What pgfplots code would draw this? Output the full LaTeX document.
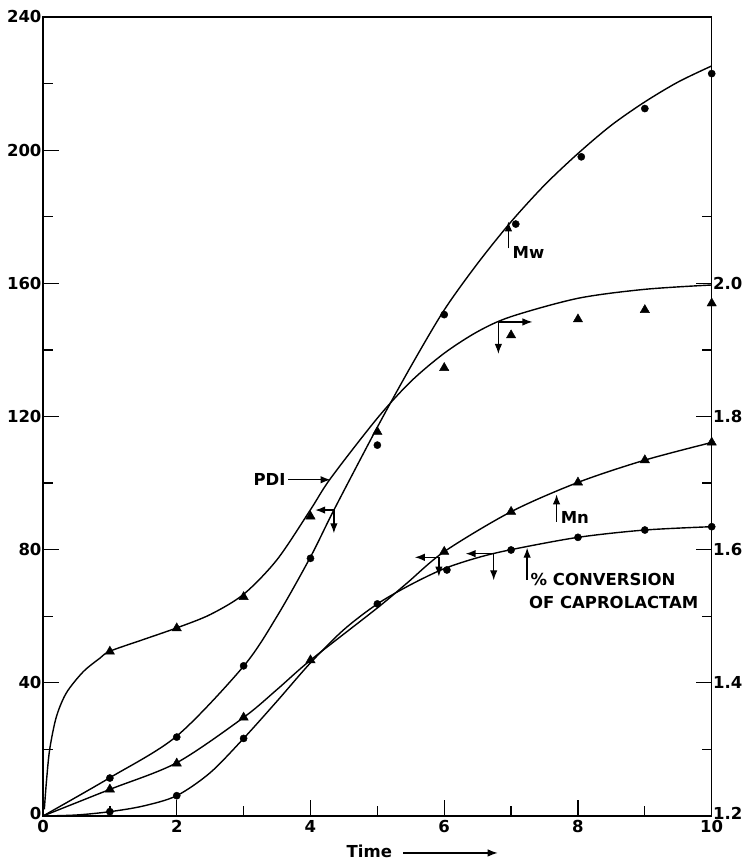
\documentclass[border=0pt]{standalone}
\usepackage{fontspec}
\setmainfont{DejaVu Sans}
\usepackage{pgfplots}
\pgfplotsset{compat=1.18}
\usetikzlibrary{arrows.meta}
\begin{document}
\begin{tikzpicture}
\tikzset{
  arr/.style={line width=1.3pt, -{Latex[length=10pt,width=7.5pt]}},
  lab/.style={font=\fontsize{16.5}{20}\selectfont\bfseries, inner sep=0pt},
}
\pgfplotsset{
  common/.style={
    scale only axis, width=668.7pt, height=799pt,
    xmin=0, xmax=10,
    tick align=inside,
    major tick length=16pt, minor tick length=10pt,
    axis line style={line width=1.4pt},
    every tick/.style={line width=1.3pt, black},
    minor tick style={line width=1.3pt, black},
    major tick style={line width=1.3pt, black},
    ticklabel style={font=\fontsize{16.5}{20}\selectfont\bfseries},
    /pgf/number format/assume math mode=true,
    clip=false,
  },
  curve/.style={line width=1.4pt, black, smooth, no markers},
  circ/.style={only marks, mark=*, mark size=3.6pt, black},
  tri/.style={only marks, mark=triangle*, mark size=5.4pt, black},
}
\begin{axis}[common,
  ymin=0, ymax=240,
  xtick={0,2,4,6,8,10}, minor xtick={1,3,5,7,9},
  ytick={0,40,80,120,160,200,240}, minor ytick={20,60,100,140,180,220},
  yticklabels={\raisebox{5pt}{0},40,80,120,160,200,240},
  xtick pos=left, ytick pos=left,
  xticklabel style={yshift=-1pt},
  yticklabel style={xshift=2pt},
]
% Mw
\addplot[curve] coordinates {(0,0) (1,11.5) (2,24) (3,45) (3.5,60) (4,77.8) (4.35,91.9) (5,116.8) (5.5,135) (6,152) (6.5,166) (7,178.5) (7.5,189.5) (8,199) (8.5,207.5) (9,214.5) (9.5,220.5) (10,225.3)};
\addplot[circ] coordinates {(1,11.4) (2,23.7) (3,45.1) (4,77.4) (5,111.4) (6,150.6) (7.07,177.8) (8.05,198) (9,212.5) (10,223)};
% Mn
\addplot[curve] coordinates {(0,0) (1,8) (2,16) (3,29.6) (3.5,38) (4,46.8) (5,62.5) (5.44,69.9) (6,79.4) (7,91.4) (8,100.2) (9,106.9) (10,112.2)};
\addplot[tri] coordinates {(1,8) (2,15.8) (3,29.6) (4,46.8) (6,79.4) (7,91.4) (8,100.2) (9,106.9) (10,112.2)};
% conversion
\addplot[curve] coordinates {(0,0) (0.5,0.3) (1,1.3) (1.5,3) (2,6.1) (2.5,13) (3,23.3) (3.5,34.5) (4,46) (4.5,56) (5,63.7) (5.5,69.5) (6,74.3) (6.5,77.6) (7,80) (8,83.7) (9,85.9) (10,86.9)};
\addplot[circ] coordinates {(1,1.3) (2,6.1) (3,23.3) (5,63.7) (6.04,73.9) (7,79.9) (8,83.7) (9,85.9) (10,86.9)};
% annotations
\draw[arr] (axis cs:3.67,101) -- (axis cs:4.3,101);
\node[lab, anchor=east] at (axis cs:3.63,101) {PDI};
\draw[arr] (axis cs:4.35,91.9) -- (axis cs:4.07,91.9);
\draw[arr] (axis cs:4.35,91.9) -- (axis cs:4.35,84.9);
\draw[arr] (axis cs:6.81,148.4) -- (axis cs:7.32,148.4);
\draw[arr] (axis cs:6.81,148.4) -- (axis cs:6.81,138.8);
\draw[arr] (axis cs:6.96,170.5) -- (axis cs:6.96,178.6);
\node[lab, anchor=west] at (axis cs:7.02,169.2) {Mw};
\draw[arr] (axis cs:5.92,77.7) -- (axis cs:5.56,77.7);
\draw[arr] (axis cs:5.92,77.7) -- (axis cs:5.92,71.9);
\draw[arr] (axis cs:6.74,78.8) -- (axis cs:6.32,78.8);
\draw[arr] (axis cs:6.74,78.8) -- (axis cs:6.74,70.8);
\draw[arr] (axis cs:7.68,88.4) -- (axis cs:7.68,96.6);
\node[lab, anchor=west] at (axis cs:7.74,89.6) {Mn};
\draw[arr] (axis cs:7.24,70.9) -- (axis cs:7.24,80.6);
\node[lab, anchor=west] at (axis cs:7.29,70.9) {\% CONVERSION};
\node[lab, anchor=west] at (axis cs:7.265,64.1) {OF CAPROLACTAM};
\node[lab, anchor=center] at (axis cs:4.88,-10.6) {Time};
\draw[arr] (axis cs:5.39,-11.1) -- (axis cs:6.8,-11.1);
\end{axis}
\begin{axis}[common,
  ymin=1.2, ymax=2.4,
  axis x line=none, axis y line*=right,
  ytick={1.2,1.4,1.6,1.8,2.0}, minor ytick={1.3,1.5,1.7,1.9,2.1},
  yticklabels={\raisebox{5pt}{1.2},1.4,1.6,1.8,2.0},
  yticklabel style={xshift=-2pt},
]
% PDI
\addplot[curve] coordinates {(0.02,1.21) (0.05,1.25) (0.1,1.30) (0.2,1.349) (0.35,1.385) (0.6,1.4165) (0.85,1.437) (1,1.4475) (1.5,1.465) (2,1.4825) (2.5,1.5025) (3,1.533) (3.5,1.585) (4,1.66) (4.3,1.707) (5,1.7975) (5.5,1.8525) (6,1.895) (6.5,1.9275) (7,1.95) (8,1.9775) (9,1.991) (10,1.9975)};
\addplot[tri] coordinates {(1,1.447) (2,1.482) (3,1.529) (4,1.650) (5,1.777) (6,1.873) (7,1.922) (8,1.946) (9,1.960) (10,1.970)};
\end{axis}
\path (current axis.south west) ++(-43pt,-45pt);
\path (current axis.north east) ++(35.3pt,17pt);
\end{tikzpicture}
\end{document}
